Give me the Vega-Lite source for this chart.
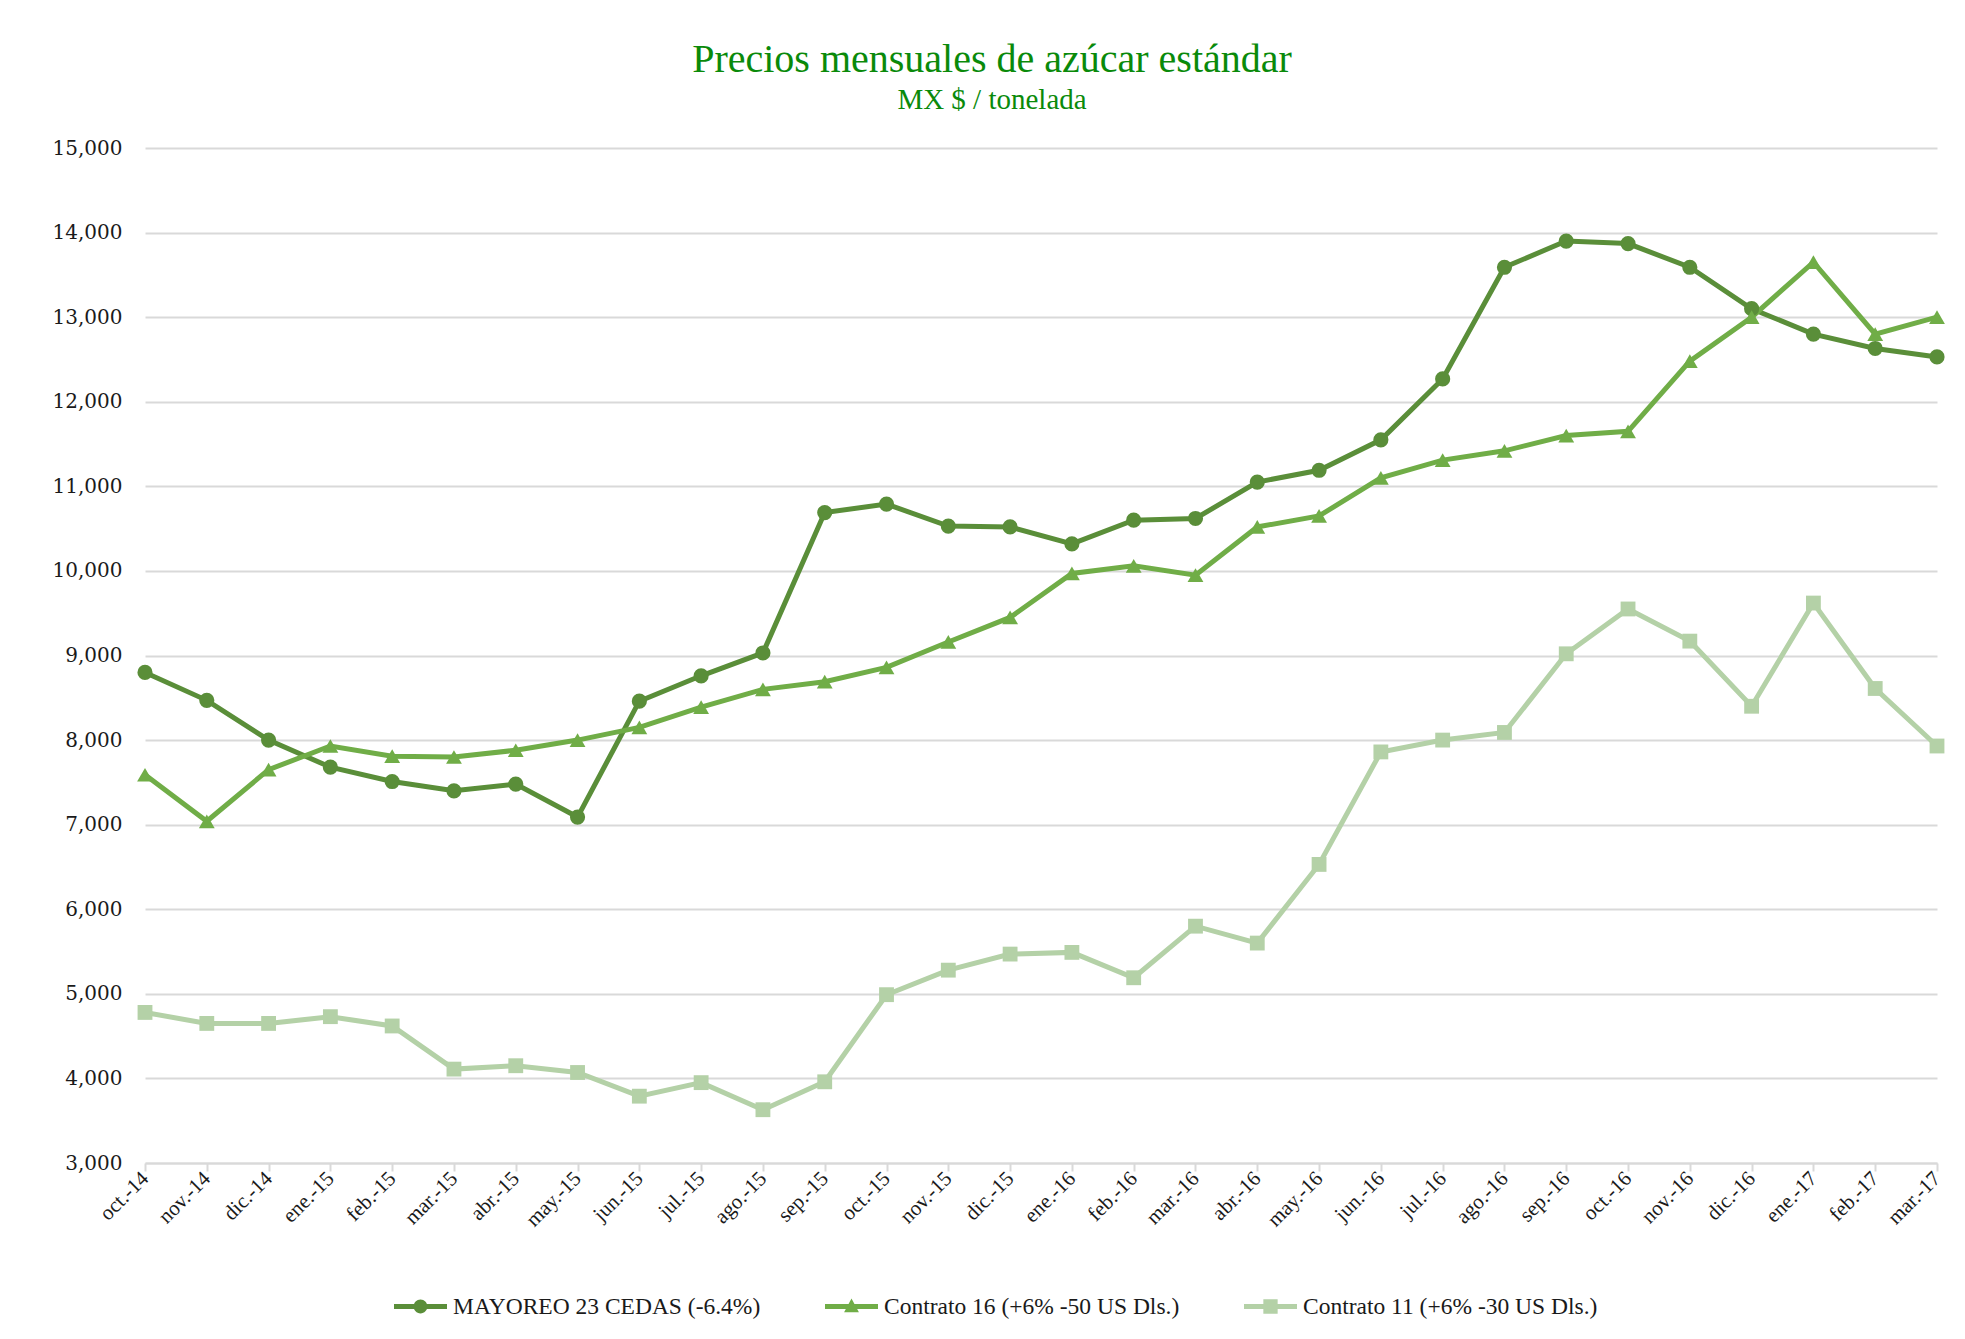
{
  "$schema": "https://vega.github.io/schema/vega-lite/v6.json",
  "autosize": {"type": "none"},
  "width": 1792,
  "height": 1015,
  "padding": {"left": 145, "top": 148, "right": 28, "bottom": 176},
  "background": "white",
  "title": {
    "text": "Precios mensuales de azúcar estándar",
    "subtitle": "MX $ / tonelada",
    "font": "Liberation Serif",
    "subtitleFont": "Liberation Serif",
    "fontSize": 40,
    "subtitleFontSize": 29,
    "fontWeight": "normal",
    "color": "#0a8a0a",
    "subtitleColor": "#0a8a0a",
    "anchor": "middle",
    "dx": -49,
    "offset": 23,
    "subtitlePadding": 6
  },
  "config": {
    "view": {"stroke": null},
    "axis": {"labelColor": "#1a1a1a"}
  },
  "data": {"values": [
    {"mes":"oct.-14","serie":"MAYOREO 23 CEDAS (-6.4%)","valor":8800},
    {"mes":"nov.-14","serie":"MAYOREO 23 CEDAS (-6.4%)","valor":8470},
    {"mes":"dic.-14","serie":"MAYOREO 23 CEDAS (-6.4%)","valor":8000},
    {"mes":"ene.-15","serie":"MAYOREO 23 CEDAS (-6.4%)","valor":7680},
    {"mes":"feb.-15","serie":"MAYOREO 23 CEDAS (-6.4%)","valor":7510},
    {"mes":"mar.-15","serie":"MAYOREO 23 CEDAS (-6.4%)","valor":7400},
    {"mes":"abr.-15","serie":"MAYOREO 23 CEDAS (-6.4%)","valor":7480},
    {"mes":"may.-15","serie":"MAYOREO 23 CEDAS (-6.4%)","valor":7090},
    {"mes":"jun.-15","serie":"MAYOREO 23 CEDAS (-6.4%)","valor":8460},
    {"mes":"jul.-15","serie":"MAYOREO 23 CEDAS (-6.4%)","valor":8760},
    {"mes":"ago.-15","serie":"MAYOREO 23 CEDAS (-6.4%)","valor":9030},
    {"mes":"sep.-15","serie":"MAYOREO 23 CEDAS (-6.4%)","valor":10690},
    {"mes":"oct.-15","serie":"MAYOREO 23 CEDAS (-6.4%)","valor":10790},
    {"mes":"nov.-15","serie":"MAYOREO 23 CEDAS (-6.4%)","valor":10530},
    {"mes":"dic.-15","serie":"MAYOREO 23 CEDAS (-6.4%)","valor":10520},
    {"mes":"ene.-16","serie":"MAYOREO 23 CEDAS (-6.4%)","valor":10320},
    {"mes":"feb.-16","serie":"MAYOREO 23 CEDAS (-6.4%)","valor":10600},
    {"mes":"mar.-16","serie":"MAYOREO 23 CEDAS (-6.4%)","valor":10620},
    {"mes":"abr.-16","serie":"MAYOREO 23 CEDAS (-6.4%)","valor":11050},
    {"mes":"may.-16","serie":"MAYOREO 23 CEDAS (-6.4%)","valor":11190},
    {"mes":"jun.-16","serie":"MAYOREO 23 CEDAS (-6.4%)","valor":11550},
    {"mes":"jul.-16","serie":"MAYOREO 23 CEDAS (-6.4%)","valor":12270},
    {"mes":"ago.-16","serie":"MAYOREO 23 CEDAS (-6.4%)","valor":13590},
    {"mes":"sep.-16","serie":"MAYOREO 23 CEDAS (-6.4%)","valor":13900},
    {"mes":"oct.-16","serie":"MAYOREO 23 CEDAS (-6.4%)","valor":13870},
    {"mes":"nov.-16","serie":"MAYOREO 23 CEDAS (-6.4%)","valor":13590},
    {"mes":"dic.-16","serie":"MAYOREO 23 CEDAS (-6.4%)","valor":13100},
    {"mes":"ene.-17","serie":"MAYOREO 23 CEDAS (-6.4%)","valor":12800},
    {"mes":"feb.-17","serie":"MAYOREO 23 CEDAS (-6.4%)","valor":12630},
    {"mes":"mar.-17","serie":"MAYOREO 23 CEDAS (-6.4%)","valor":12530},
    {"mes":"oct.-14","serie":"Contrato 16 (+6% -50 US Dls.)","valor":7590},
    {"mes":"nov.-14","serie":"Contrato 16 (+6% -50 US Dls.)","valor":7040},
    {"mes":"dic.-14","serie":"Contrato 16 (+6% -50 US Dls.)","valor":7650},
    {"mes":"ene.-15","serie":"Contrato 16 (+6% -50 US Dls.)","valor":7930},
    {"mes":"feb.-15","serie":"Contrato 16 (+6% -50 US Dls.)","valor":7810},
    {"mes":"mar.-15","serie":"Contrato 16 (+6% -50 US Dls.)","valor":7800},
    {"mes":"abr.-15","serie":"Contrato 16 (+6% -50 US Dls.)","valor":7880},
    {"mes":"may.-15","serie":"Contrato 16 (+6% -50 US Dls.)","valor":8000},
    {"mes":"jun.-15","serie":"Contrato 16 (+6% -50 US Dls.)","valor":8150},
    {"mes":"jul.-15","serie":"Contrato 16 (+6% -50 US Dls.)","valor":8390},
    {"mes":"ago.-15","serie":"Contrato 16 (+6% -50 US Dls.)","valor":8600},
    {"mes":"sep.-15","serie":"Contrato 16 (+6% -50 US Dls.)","valor":8690},
    {"mes":"oct.-15","serie":"Contrato 16 (+6% -50 US Dls.)","valor":8860},
    {"mes":"nov.-15","serie":"Contrato 16 (+6% -50 US Dls.)","valor":9160},
    {"mes":"dic.-15","serie":"Contrato 16 (+6% -50 US Dls.)","valor":9450},
    {"mes":"ene.-16","serie":"Contrato 16 (+6% -50 US Dls.)","valor":9970},
    {"mes":"feb.-16","serie":"Contrato 16 (+6% -50 US Dls.)","valor":10060},
    {"mes":"mar.-16","serie":"Contrato 16 (+6% -50 US Dls.)","valor":9950},
    {"mes":"abr.-16","serie":"Contrato 16 (+6% -50 US Dls.)","valor":10520},
    {"mes":"may.-16","serie":"Contrato 16 (+6% -50 US Dls.)","valor":10650},
    {"mes":"jun.-16","serie":"Contrato 16 (+6% -50 US Dls.)","valor":11100},
    {"mes":"jul.-16","serie":"Contrato 16 (+6% -50 US Dls.)","valor":11310},
    {"mes":"ago.-16","serie":"Contrato 16 (+6% -50 US Dls.)","valor":11420},
    {"mes":"sep.-16","serie":"Contrato 16 (+6% -50 US Dls.)","valor":11600},
    {"mes":"oct.-16","serie":"Contrato 16 (+6% -50 US Dls.)","valor":11650},
    {"mes":"nov.-16","serie":"Contrato 16 (+6% -50 US Dls.)","valor":12480},
    {"mes":"dic.-16","serie":"Contrato 16 (+6% -50 US Dls.)","valor":13000},
    {"mes":"ene.-17","serie":"Contrato 16 (+6% -50 US Dls.)","valor":13650},
    {"mes":"feb.-17","serie":"Contrato 16 (+6% -50 US Dls.)","valor":12800},
    {"mes":"mar.-17","serie":"Contrato 16 (+6% -50 US Dls.)","valor":13000},
    {"mes":"oct.-14","serie":"Contrato 11 (+6% -30 US Dls.)","valor":4780},
    {"mes":"nov.-14","serie":"Contrato 11 (+6% -30 US Dls.)","valor":4650},
    {"mes":"dic.-14","serie":"Contrato 11 (+6% -30 US Dls.)","valor":4650},
    {"mes":"ene.-15","serie":"Contrato 11 (+6% -30 US Dls.)","valor":4730},
    {"mes":"feb.-15","serie":"Contrato 11 (+6% -30 US Dls.)","valor":4620},
    {"mes":"mar.-15","serie":"Contrato 11 (+6% -30 US Dls.)","valor":4110},
    {"mes":"abr.-15","serie":"Contrato 11 (+6% -30 US Dls.)","valor":4150},
    {"mes":"may.-15","serie":"Contrato 11 (+6% -30 US Dls.)","valor":4070},
    {"mes":"jun.-15","serie":"Contrato 11 (+6% -30 US Dls.)","valor":3790},
    {"mes":"jul.-15","serie":"Contrato 11 (+6% -30 US Dls.)","valor":3950},
    {"mes":"ago.-15","serie":"Contrato 11 (+6% -30 US Dls.)","valor":3630},
    {"mes":"sep.-15","serie":"Contrato 11 (+6% -30 US Dls.)","valor":3960},
    {"mes":"oct.-15","serie":"Contrato 11 (+6% -30 US Dls.)","valor":4990},
    {"mes":"nov.-15","serie":"Contrato 11 (+6% -30 US Dls.)","valor":5280},
    {"mes":"dic.-15","serie":"Contrato 11 (+6% -30 US Dls.)","valor":5470},
    {"mes":"ene.-16","serie":"Contrato 11 (+6% -30 US Dls.)","valor":5490},
    {"mes":"feb.-16","serie":"Contrato 11 (+6% -30 US Dls.)","valor":5190},
    {"mes":"mar.-16","serie":"Contrato 11 (+6% -30 US Dls.)","valor":5800},
    {"mes":"abr.-16","serie":"Contrato 11 (+6% -30 US Dls.)","valor":5600},
    {"mes":"may.-16","serie":"Contrato 11 (+6% -30 US Dls.)","valor":6530},
    {"mes":"jun.-16","serie":"Contrato 11 (+6% -30 US Dls.)","valor":7860},
    {"mes":"jul.-16","serie":"Contrato 11 (+6% -30 US Dls.)","valor":8000},
    {"mes":"ago.-16","serie":"Contrato 11 (+6% -30 US Dls.)","valor":8090},
    {"mes":"sep.-16","serie":"Contrato 11 (+6% -30 US Dls.)","valor":9020},
    {"mes":"oct.-16","serie":"Contrato 11 (+6% -30 US Dls.)","valor":9550},
    {"mes":"nov.-16","serie":"Contrato 11 (+6% -30 US Dls.)","valor":9170},
    {"mes":"dic.-16","serie":"Contrato 11 (+6% -30 US Dls.)","valor":8400},
    {"mes":"ene.-17","serie":"Contrato 11 (+6% -30 US Dls.)","valor":9620},
    {"mes":"feb.-17","serie":"Contrato 11 (+6% -30 US Dls.)","valor":8610},
    {"mes":"mar.-17","serie":"Contrato 11 (+6% -30 US Dls.)","valor":7930}
  ]},
  "encoding": {
    "x": {
      "field": "mes", "type": "ordinal", "sort": null,
      "scale": {"type": "point", "padding": 0},
      "axis": {
        "title": null,
        "labelAngle": -45,
        "labelAlign": "right",
        "labelBaseline": "middle",
        "labelFont": "Liberation Serif",
        "labelFontSize": 21,
        "labelPadding": 4,
        "tickSize": 8,
        "tickColor": "#d9d9d9",
        "tickWidth": 2,
        "domainColor": "#d9d9d9",
        "domainWidth": 2,
        "grid": false
      }
    },
    "y": {
      "field": "valor", "type": "quantitative",
      "scale": {"domain": [3000, 15000], "nice": false, "zero": false},
      "axis": {
        "title": null,
        "values": [3000,4000,5000,6000,7000,8000,9000,10000,11000,12000,13000,14000,15000],
        "format": ",d",
        "labelFont": "DejaVu Serif",
        "labelFontSize": 20,
        "labelPadding": 23,
        "ticks": false,
        "domain": false,
        "grid": true,
        "gridColor": "#d9d9d9",
        "gridWidth": 2
      }
    },
    "color": {
      "field": "serie", "type": "nominal",
      "scale": {
        "domain": ["MAYOREO 23 CEDAS (-6.4%)", "Contrato 16 (+6% -50 US Dls.)", "Contrato 11 (+6% -30 US Dls.)"],
        "range": ["#5a8e39", "#70ad47", "#b4d1a7"]
      },
      "legend": {
        "title": null,
        "orient": "none",
        "direction": "horizontal",
        "legendX": 249,
        "legendY": 1132,
        "padding": 0,
        "symbolSize": 2809,
        "symbolStrokeWidth": 0,
        "labelFont": "Liberation Serif",
        "labelFontSize": 23.5,
        "labelColor": "#1a1a1a",
        "labelOffset": 6,
        "labelLimit": 0,
        "columnPadding": 64,
        "encode": {
          "symbols": {
            "update": {
              "shape": {"signal": "datum.value === 'MAYOREO 23 CEDAS (-6.4%)' ? 'M-1,-0.09L1,-0.09L1,0.09L-1,0.09Z M0.26,0A0.26,0.26 0 1,1 -0.26,0A0.26,0.26 0 1,1 0.26,0Z' : (datum.value === 'Contrato 16 (+6% -50 US Dls.)' ? 'M-1,-0.09L1,-0.09L1,0.09L-1,0.09Z M0,-0.3L0.28,0.22L-0.28,0.22Z' : 'M-1,-0.09L1,-0.09L1,0.09L-1,0.09Z M-0.27,-0.27L0.27,-0.27L0.27,0.27L-0.27,0.27Z')"},
              "fill": {"scale": "color", "field": "value"},
              "stroke": {"value": "transparent"},
              "opacity": {"value": 1}
            }
          }
        }
      }
    }
  },
  "layer": [
    {"mark": {"type": "line", "strokeWidth": 5}},
    {
      "transform": [{"filter": "datum.serie === 'MAYOREO 23 CEDAS (-6.4%)'"}],
      "mark": {"type": "point", "filled": true, "opacity": 1, "shape": "circle", "size": 230}
    },
    {
      "transform": [{"filter": "datum.serie === 'Contrato 16 (+6% -50 US Dls.)'"}],
      "mark": {"type": "point", "filled": true, "opacity": 1, "shape": "triangle-up", "size": 250}
    },
    {
      "transform": [{"filter": "datum.serie === 'Contrato 11 (+6% -30 US Dls.)'"}],
      "mark": {"type": "point", "filled": true, "opacity": 1, "shape": "square", "size": 220}
    }
  ]
}
